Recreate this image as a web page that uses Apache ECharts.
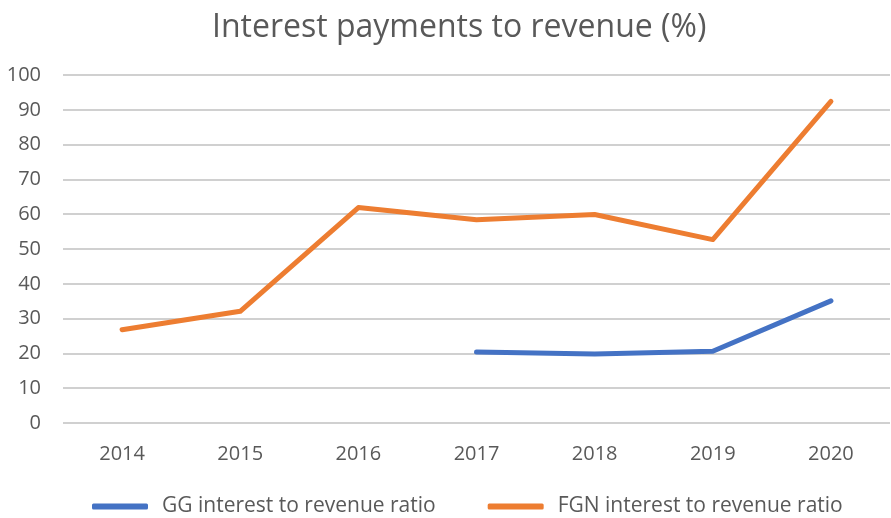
<!DOCTYPE html>
<html lang="en">
<head>
  <meta charset="UTF-8">
  <title>Interest payments to revenue</title>
  <script src="https://cdn.jsdelivr.net/npm/echarts@6/dist/echarts.min.js"></script>
  <style>
    html, body { margin: 0; padding: 0; background: #fff; }
    #chart { width: 891px; height: 518px; }
  </style>
</head>
<body>
<div id="chart"></div>
<script>
  var years = ['2014', '2015', '2016', '2017', '2018', '2019', '2020'];
  // GG has no values before 2017
  var ggRatio = [null, null, null, 20.4, 19.8, 20.6, 35.1];
  var fgnRatio = [26.8, 32.1, 61.9, 58.4, 59.9, 52.7, 92.4];

  var myChart = echarts.init(document.getElementById('chart'));
  var font = '"Open Sans", sans-serif';
  var grey = '#595959';

  var option = {
    animation: false,
    title: {
      text: 'Interest payments to revenue (%)',
      left: 207,
      top: 7,
      textStyle: { fontFamily: font, fontSize: 32, fontWeight: 'normal', color: grey }
    },
    legend: {
      top: 491,
      left: 87,
      itemGap: 52,
      itemWidth: 56,
      itemHeight: 6,
      icon: 'roundRect',
      textStyle: { fontFamily: font, fontSize: 21, color: grey, padding: [0, 0, 0, 9] },
      data: ['GG interest to revenue ratio', 'FGN interest to revenue ratio']
    },
    grid: { left: 63, right: 1, top: 75, bottom: 95 },
    xAxis: {
      type: 'category',
      data: years,
      axisLine: { show: false },
      axisTick: { show: false },
      axisLabel: { fontFamily: font, fontSize: 20, color: grey, margin: 21 }
    },
    yAxis: {
      type: 'value',
      min: 0,
      max: 100,
      interval: 10,
      axisLine: { show: false },
      axisTick: { show: false },
      axisLabel: { fontFamily: font, fontSize: 20, color: grey, margin: 22 },
      splitLine: { lineStyle: { color: '#d0d0d0', width: 2 } }
    },
    series: [
      {
        name: 'GG interest to revenue ratio',
        type: 'line',
        data: ggRatio,
        symbol: 'none',
        color: '#4472C4',
        lineStyle: { width: 5, cap: 'round', join: 'round' }
      },
      {
        name: 'FGN interest to revenue ratio',
        type: 'line',
        data: fgnRatio,
        symbol: 'none',
        color: '#ED7D31',
        lineStyle: { width: 5, cap: 'round', join: 'round' }
      }
    ]
  };

  myChart.setOption(option);
</script>
</body>
</html>
